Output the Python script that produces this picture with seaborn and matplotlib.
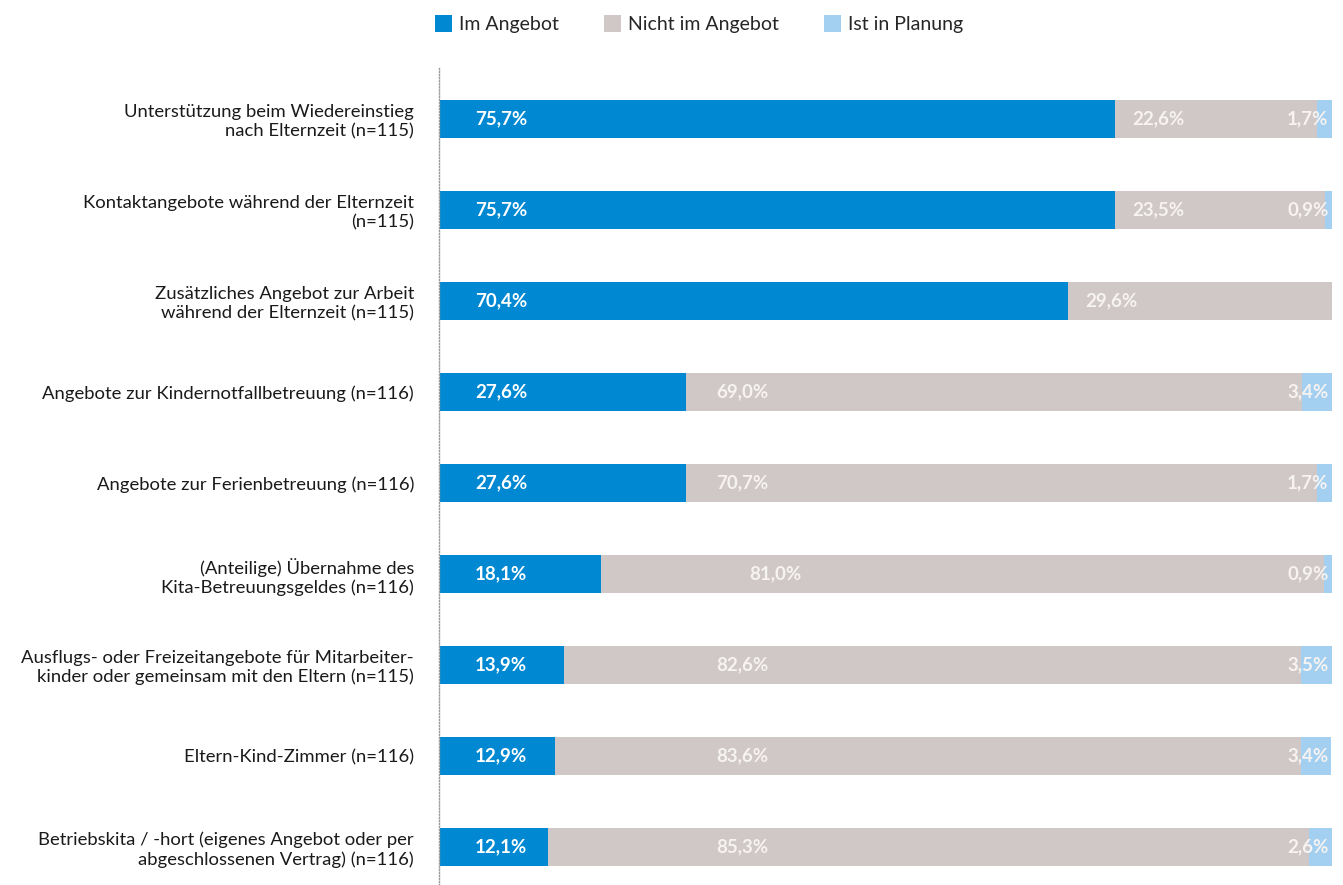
import matplotlib
matplotlib.use("Agg")
import matplotlib.pyplot as plt
import seaborn as sns
import numpy as np
import pandas as pd
from matplotlib.patches import Patch

categories = [
    "Unterstützung beim Wiedereinstieg\nnach Elternzeit (n=115)",
    "Kontaktangebote während der Elternzeit\n(n=115)",
    "Zusätzliches Angebot zur Arbeit\nwährend der Elternzeit (n=115)",
    "Angebote zur Kindernotfallbetreuung (n=116)",
    "Angebote zur Ferienbetreuung (n=116)",
    "(Anteilige) Übernahme des\nKita-Betreuungsgeldes (n=116)",
    "Ausflugs- oder Freizeitangebote für Mitarbeiter-\nkinder oder gemeinsam mit den Eltern (n=115)",
    "Eltern-Kind-Zimmer (n=116)",
    "Betriebskita / -hort (eigenes Angebot oder per\nabgeschlossenen Vertrag) (n=116)",
]
im_angebot = [75.7, 75.7, 70.4, 27.6, 27.6, 18.1, 13.9, 12.9, 12.1]
nicht_im_angebot = [22.6, 23.5, 29.6, 69.0, 70.7, 81.0, 82.6, 83.6, 85.3]
in_planung = [1.7, 0.9, 0.0, 3.4, 1.7, 0.9, 3.5, 3.4, 2.6]
series_names = ["Im Angebot", "Nicht im Angebot", "Ist in Planung"]

colors = ["#0089d2", "#cfc8c6", "#a3cff0"]

sns.set_theme(style="white")
plt.rcParams['font.family'] = ['Lato', 'DejaVu Sans']

df = pd.DataFrame({
    "cat": categories,
    "a": im_angebot,
    "b": nicht_im_angebot,
    "c": in_planung,
})
df["ab"] = df["a"] + df["b"]
df["abc"] = df["ab"] + df["c"]

fig = plt.figure(figsize=(13.43, 8.85), dpi=100)
ax = fig.add_axes([440/1343, 0, (1332-440)/1343, (885-68)/885])

bw = 0.42
sns.barplot(data=df, x="abc", y="cat", color=colors[2], width=bw, ax=ax, saturation=1, orient="h")
sns.barplot(data=df, x="ab", y="cat", color=colors[1], width=bw, ax=ax, saturation=1, orient="h")
sns.barplot(data=df, x="a", y="cat", color=colors[0], width=bw, ax=ax, saturation=1, orient="h")
for p in ax.patches:
    p.set_edgecolor("none")
    p.set_linewidth(0)

def fmt(v):
    return f"{v:.1f}".replace(".", ",") + "%"

lab_kw = dict(fontsize=13.5, fontweight="bold", va="center")
for i in range(len(categories)):
    a, b, c = im_angebot[i], nicht_im_angebot[i], in_planung[i]
    ax.text(3.9, i, fmt(a), color="white", ha="left", **lab_kw)
    xb = max(a + 1.9, 31.0) if i != 5 else 34.7
    ax.text(xb, i, fmt(b), color="#f6f3f2", ha="left", **lab_kw)
    if c > 0:
        ax.text(99.6, i, fmt(c), color="#f6f3f2", ha="right", **lab_kw)

ax.set_xlim(0, 100)
ax.set_ylim(8.42, -0.56)
ax.set_xlabel("")
ax.set_ylabel("")
ax.set_xticks([])
ax.tick_params(axis="y", length=0, pad=18, labelsize=13.3, colors="#1a1a1a")
for lbl in ax.get_yticklabels():
    lbl.set_horizontalalignment("right")
    lbl.set_multialignment("right")
    lbl.set_linespacing(1.3)
for s in ["top", "right", "bottom"]:
    ax.spines[s].set_visible(False)
ax.spines["left"].set_linestyle((0, (0.8, 1.4)))
ax.spines["left"].set_color("#999999")
ax.spines["left"].set_linewidth(1.0)
ax.spines["left"].set_position(("data", -0.1))

handles = [Patch(facecolor=col, edgecolor="none") for col in colors]
fig.legend(handles, series_names, loc="center", bbox_to_anchor=(699/1343, 1 - 24/885),
           ncol=3, frameon=False, fontsize=14, handlelength=0.9, handleheight=1.0,
           handletextpad=0.35, columnspacing=2.3)

fig.savefig("out.png", dpi=100)
